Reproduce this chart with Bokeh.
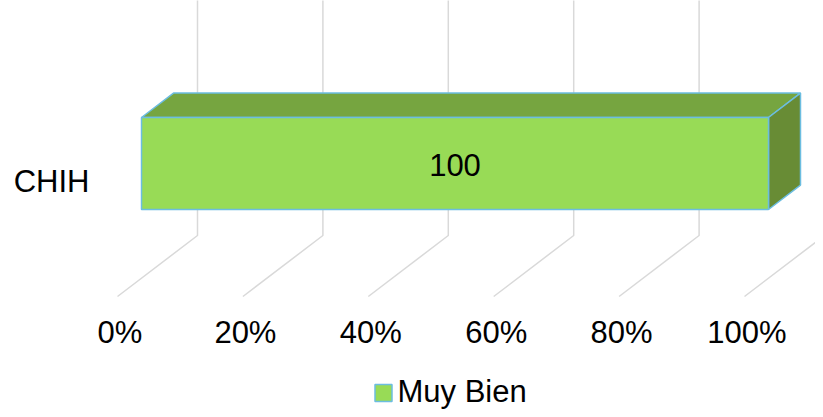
from bokeh.plotting import figure
from bokeh.models import Range1d
from bokeh.core.properties import value
from bokeh.embed import file_html
from bokeh.resources import INLINE

# ---- data ----
categories = ["CHIH"]
series_names = ["Muy Bien"]
series_values = [[100]]
tick_values = [0, 20, 40, 60, 80, 100]
tick_labels = ["0%", "20%", "40%", "60%", "80%", "100%"]

# ---- styling / projection constants ----
FRONT_COLOR = "#98DB56"
TOP_COLOR = "#76A540"
SIDE_COLOR = "#688C35"
EDGE_COLOR = "#6CBDE0"
GRID_COLOR = "#D9D9D9"
FONT = value("Liberation Sans")
FS = "31px"

W, H = 815, 409
PX_PER_UNIT = 6.27            # pixels per percent on front plane
X0_PIX = 117                  # pixel x of 0% on front floor edge
DX_DEPTH = 80 / PX_PER_UNIT   # x shift (data units) for full depth
DY_DEPTH = -61                # y shift (pixels) for full depth
FLOOR_Y = 296
BAR_D0, BAR_D1 = 0.3, 0.7
BAR_TOP, BAR_BOT = 135.3, 227.3

x0 = -X0_PIX / PX_PER_UNIT
x1 = x0 + W / PX_PER_UNIT

p = figure(width=W, height=H, output_backend="svg", toolbar_location=None,
           x_range=Range1d(x0, x1), y_range=Range1d(H, 0),
           min_border=0, min_border_left=0, min_border_right=0,
           min_border_top=0, min_border_bottom=0)
p.axis.visible = False
p.grid.visible = False
p.outline_line_color = None
p.background_fill_color = "white"
p.border_fill_color = "white"


def proj(x, y, d):
    return x + DX_DEPTH * d, y + DY_DEPTH * d


# gridlines (floor diagonal + back wall vertical)
for t in tick_values:
    ax, ay = proj(t, FLOOR_Y, 0)
    bx, by = proj(t, FLOOR_Y, 1)
    p.line([ax, bx, bx], [ay, by, -100], line_color=GRID_COLOR, line_width=1.5)

# stacked 100% bars
total = sum(v[0] for v in series_values)
start = 0.0
for name, vals in zip(series_names, series_values):
    v = vals[0]
    s, e = start, start + 100.0 * v / total
    start = e
    # top face
    pts = [proj(s, BAR_TOP, BAR_D0), proj(e, BAR_TOP, BAR_D0),
           proj(e, BAR_TOP, BAR_D1), proj(s, BAR_TOP, BAR_D1)]
    p.patch([q[0] for q in pts], [q[1] for q in pts], fill_color=TOP_COLOR,
            line_color=EDGE_COLOR, line_width=1.5)
    # right side face
    pts = [proj(e, BAR_TOP, BAR_D0), proj(e, BAR_TOP, BAR_D1),
           proj(e, BAR_BOT, BAR_D1), proj(e, BAR_BOT, BAR_D0)]
    p.patch([q[0] for q in pts], [q[1] for q in pts], fill_color=SIDE_COLOR,
            line_color=EDGE_COLOR, line_width=1.5)
    # front face
    pts = [proj(s, BAR_TOP, BAR_D0), proj(e, BAR_TOP, BAR_D0),
           proj(e, BAR_BOT, BAR_D0), proj(s, BAR_BOT, BAR_D0)]
    p.patch([q[0] for q in pts], [q[1] for q in pts], fill_color=FRONT_COLOR,
            line_color=EDGE_COLOR, line_width=1.5)
    # data label
    cx, cy = proj((s + e) / 2, (BAR_TOP + BAR_BOT) / 2, BAR_D0)
    p.text([cx], [cy + 1], text=[str(v)], text_font=FONT, text_font_size=FS,
           text_align="center", text_baseline="middle", text_color="black")

# category label
lx, ly = proj(0, 200, 0)
p.text([(89 - X0_PIX) / PX_PER_UNIT], [ly - 19], text=categories, text_font=FONT,
       text_font_size=FS, text_align="right", text_baseline="middle",
       text_color="black")

# tick labels (front plane)
p.text([t + 0.4 for t in tick_values], [332] * len(tick_values), text=tick_labels,
       text_font=FONT, text_font_size=FS, text_align="center",
       text_baseline="middle", text_color="black")

# legend
sq_x = (383 - X0_PIX) / PX_PER_UNIT
p.rect([sq_x], [392.5], width=17 / PX_PER_UNIT, height=17, fill_color=FRONT_COLOR,
       line_color=EDGE_COLOR, line_width=1.5)
p.text([(397 - X0_PIX) / PX_PER_UNIT], [391], text=series_names, text_font=FONT,
       text_font_size=FS, text_align="left", text_baseline="middle",
       text_color="black")

open("out.html", "w").write(file_html(p, INLINE))
